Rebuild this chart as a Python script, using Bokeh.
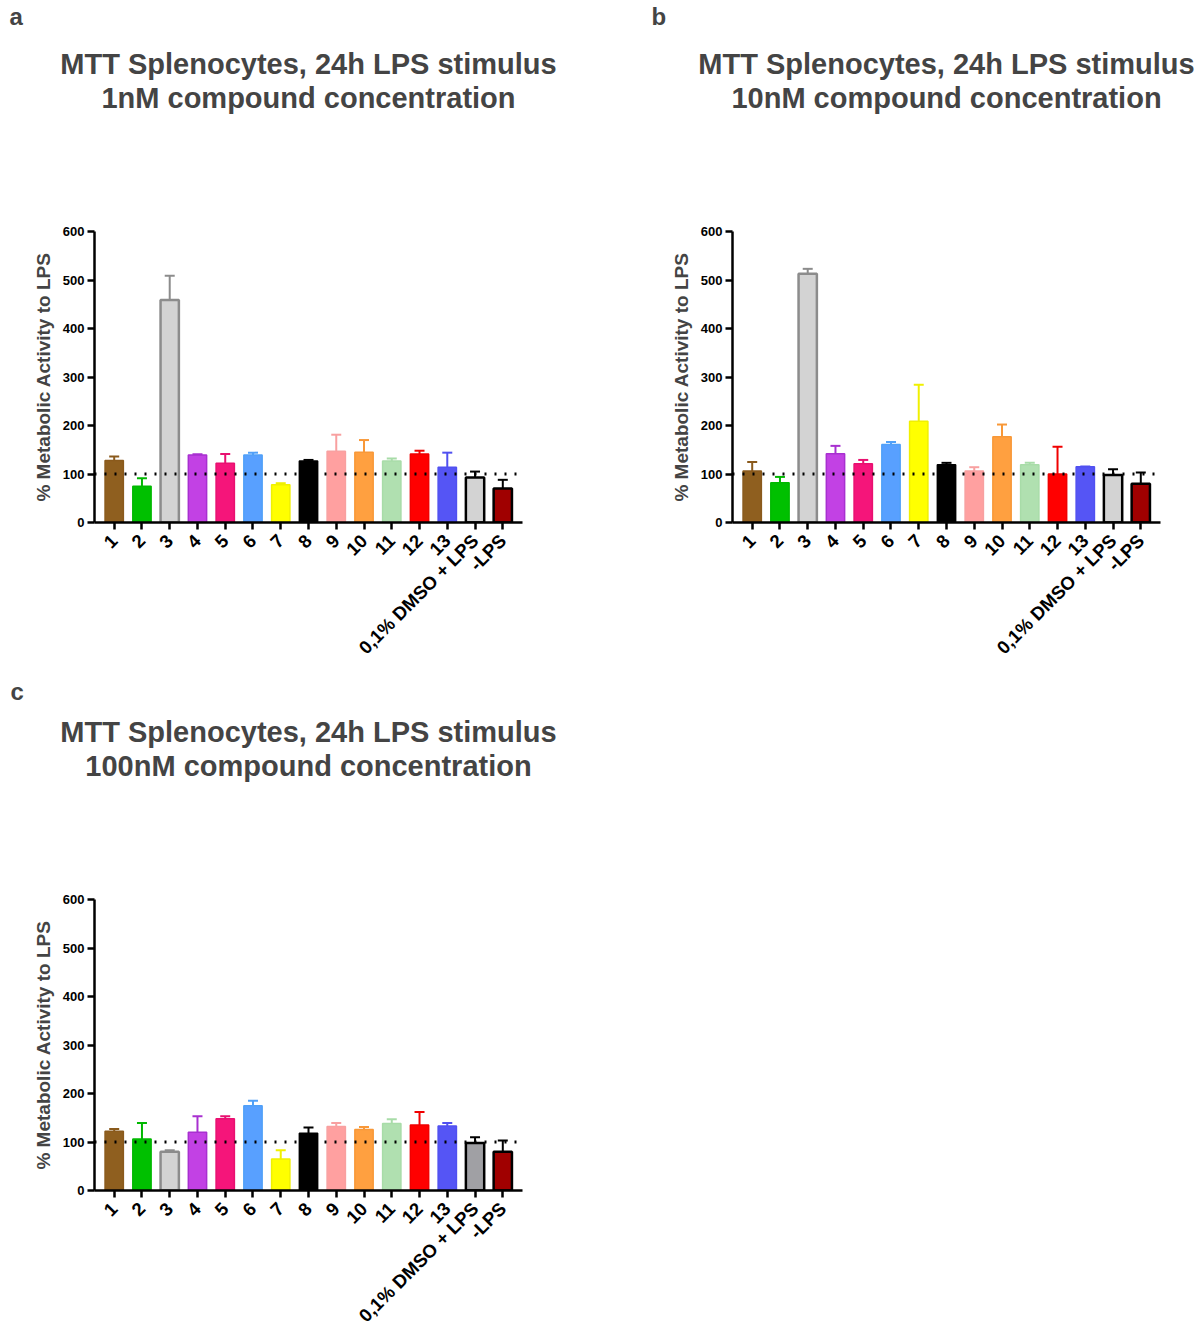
import math
from bokeh.plotting import figure
from bokeh.models import Range1d, FixedTicker, Span, Title
from bokeh.layouts import column, row
from bokeh.embed import file_html
from bokeh.resources import INLINE

# ---- data ----
labels = ["1", "2", "3", "4", "5", "6", "7", "8", "9", "10", "11", "12", "13",
          "0,1% DMSO + LPS", "-LPS"]

vals_1nM = [128, 75, 459, 139, 122, 139, 78, 127, 147, 145, 127, 141, 114, 93, 70]
err_1nM = [8, 16, 50, 1.5, 19, 5, 3, 2, 34, 25, 5, 7, 30, 12, 18]

vals_10nM = [106, 82, 513, 142, 121, 161, 209, 119, 106, 177, 119, 100, 115, 98, 80]
err_10nM = [19, 12, 10, 16, 8, 5, 75, 4, 8, 25, 4, 56, 0.5, 12, 23]

vals_100nM = [122, 106, 80, 120, 148, 175, 65, 118, 132, 126, 138, 135, 133, 98, 80]
err_100nM = [5, 33, 3, 33, 5, 10, 18, 12, 7, 5, 9, 27, 6, 12, 23]

fill_colors = ["#8F5F1F", "#00C000", "#D3D3D3", "#C241E4", "#F5157A", "#58A0FF",
               "#FFFF00", "#000000", "#FFA0A0", "#FFA040", "#B0E0B0", "#FF0000",
               "#5555F5", "#D3D3D3", "#A00000"]
fill_colors_c = fill_colors[:13] + ["#A0A0A4", "#A00000"]
line_colors = ["#8A5A1C", "#00B800", "#8C8C8C", "#A830D0", "#E81070", "#50A0F8",
               "#F0F000", "#000000", "#F8A0A0", "#F89838", "#A8DCA8", "#F00000",
               "#5050F0", "#000000", "#000000"]
line_widths = [1.5, 1.5, 2.5, 1.5, 1.5, 1.5, 1.5, 1.5, 1.5, 1.5, 1.5, 1.5, 1.5, 2.5, 2.5]

y_ticks = [0, 100, 200, 300, 400, 500, 600]
reference_level = 100

FONT = "Liberation Sans"


def make_panel(letter, letter_offset, letter_gap, line1, line2, vals, errs, fills,
               right_border, bottom_border):
    idx = list(range(1, len(labels) + 1))
    p = figure(title=None, frame_width=428, frame_height=291,
               x_range=Range1d(0.29, len(labels) + 0.71),
               y_range=Range1d(0, 600),
               output_backend="svg", toolbar_location=None,
               min_border_left=94, min_border_right=right_border,
               min_border_top=231, min_border_bottom=bottom_border)
    p.outline_line_color = None
    p.xgrid.visible = False
    p.ygrid.visible = False

    tops = [v + e for v, e in zip(vals, errs)]
    cap_l = [i - 0.18 for i in idx]
    cap_r = [i + 0.18 for i in idx]
    p.segment(x0=idx, y0=vals, x1=idx, y1=tops, line_color=line_colors, line_width=2)
    p.segment(x0=cap_l, y0=tops, x1=cap_r, y1=tops, line_color=line_colors, line_width=2)
    p.vbar(x=idx, top=vals, bottom=0, width=0.66, fill_color=fills,
           line_color=line_colors, line_width=line_widths)

    p.add_layout(Span(location=reference_level, dimension="width", line_color="black",
                      line_dash="2 8", line_width=3))

    for ax in (p.xaxis[0], p.yaxis[0]):
        ax.axis_line_width = 2.5
        ax.major_tick_line_width = 2.5
        ax.major_tick_out = 7
        ax.major_tick_in = 0
        ax.minor_tick_line_color = None
        ax.major_label_text_font = FONT
        ax.major_label_text_font_style = "bold"
        ax.major_label_text_color = "black"

    p.xaxis.ticker = FixedTicker(ticks=idx)
    p.xaxis.major_label_overrides = {i: lab for i, lab in zip(idx, labels)}
    p.xaxis.major_label_orientation = math.pi / 4
    p.xaxis.major_label_text_font_size = "18.5px"
    p.xaxis.major_label_standoff = 8

    p.yaxis.ticker = FixedTicker(ticks=y_ticks)
    p.yaxis.major_label_text_font_size = "13px"
    p.yaxis.major_label_standoff = 3
    p.yaxis.axis_label = "% Metabolic Activity to LPS"
    p.yaxis.axis_label_text_font = FONT
    p.yaxis.axis_label_text_font_style = "bold"
    p.yaxis.axis_label_text_font_size = "19px"
    p.yaxis.axis_label_standoff = 6

    # title stack, from the frame outward
    p.add_layout(Title(text=" ", text_font_size="8px", standoff=107), "above")
    for txt in (line2, line1):
        p.add_layout(Title(text=txt, align="center", text_font=FONT, text_font_style="bold",
                           text_font_size="29px", standoff=0), "above")
    gap_font, gap_standoff = letter_gap
    p.add_layout(Title(text=" ", text_font_size=gap_font, standoff=gap_standoff), "above")
    p.add_layout(Title(text=letter, align="left", offset=letter_offset, text_font=FONT,
                       text_font_style="bold", text_font_size="24px", standoff=0,
                       vertical_align="top"), "above")
    return p


pa = make_panel("a", -85, ("8px", 3), "MTT Splenocytes, 24h LPS stimulus",
                "1nM compound concentration", vals_1nM, err_1nM, fill_colors, 116, 145)
pb = make_panel("b", -81, ("8px", 3), "MTT Splenocytes, 24h LPS stimulus",
                "10nM compound concentration", vals_10nM, err_10nM, fill_colors, 38, 145)
pc = make_panel("c", -84, ("4px", 0), "MTT Splenocytes, 24h LPS stimulus",
                "100nM compound concentration", vals_100nM, err_100nM, fill_colors_c, 116, 0)

layout = column(row(pa, pb), pc)
open("out.html", "w").write(file_html(layout, INLINE))
